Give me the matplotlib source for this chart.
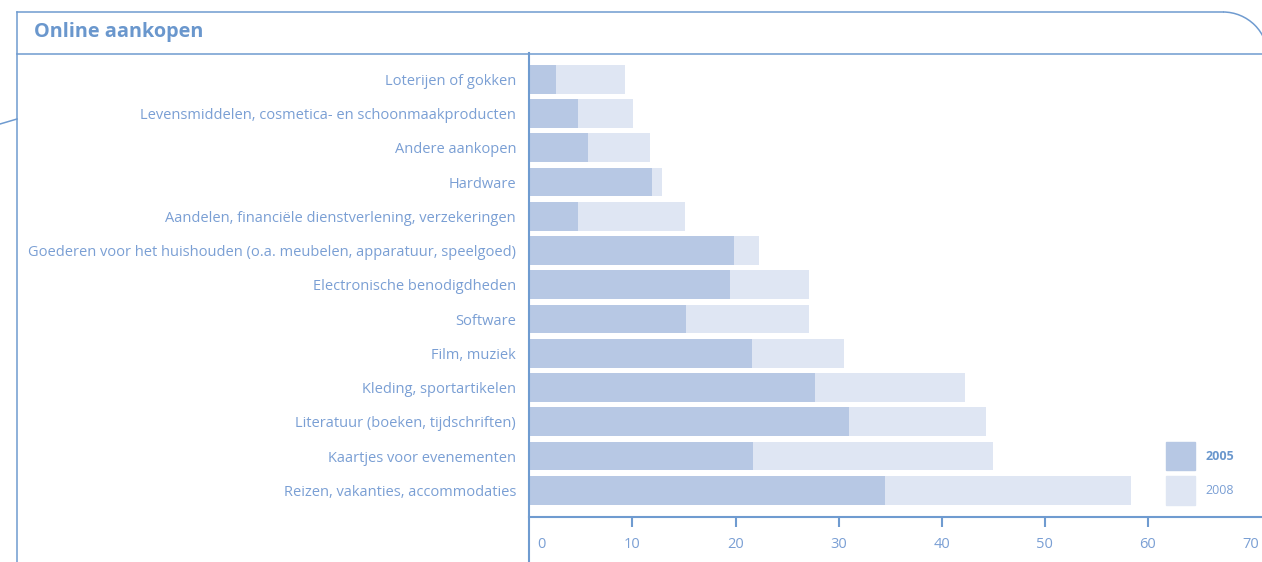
import matplotlib.pyplot as plt
from matplotlib.patches import Rectangle, Arc
from matplotlib.lines import Line2D
from matplotlib.transforms import ScaledTranslation

# data (percent)
categories = [
    'Loterijen of gokken',
    'Levensmiddelen, cosmetica- en schoonmaakproducten',
    'Andere aankopen',
    'Hardware',
    'Aandelen, financiële dienstverlening, verzekeringen',
    'Goederen voor het huishouden (o.a. meubelen, apparatuur, speelgoed)',
    'Electronische benodigdheden',
    'Software',
    'Film, muziek',
    'Kleding, sportartikelen',
    'Literatuur (boeken, tijdschriften)',
    'Kaartjes voor evenementen',
    'Reizen, vakanties, accommodaties',
]
values_2005 = [2.6, 4.7, 5.7, 11.9, 4.7, 19.9, 19.5, 15.2, 21.6, 27.7, 31.0, 21.7, 34.5]
values_2008 = [9.3, 10.1, 11.7, 12.9, 15.1, 22.3, 27.1, 27.1, 30.5, 42.3, 44.3, 45.0, 58.4]
x_ticks = [0, 10, 20, 30, 40, 50, 60, 70]
series_names = ['2005', '2008']

DARK = '#b7c8e4'
LIGHT = '#dfe6f3'
LINE = '#6f9bd0'
TEXT = '#7a9fd4'
TITLE = '#6a97cd'
FONT = 'Open Sans'

W, H = 1262, 562
fig = plt.figure(figsize=(W / 100, H / 100), dpi=100)

def fx(px):
    return px / W

def fy(py):
    return 1 - py / H

# frame around the panel
frame_kw = dict(color=LINE, lw=1.1, transform=fig.transFigure)
fig.add_artist(Line2D([fx(17), fx(17)], [fy(12), 0], **frame_kw))
fig.add_artist(Line2D([fx(17), fx(1223)], [fy(12), fy(12)], **frame_kw))
fig.add_artist(Line2D([fx(17), 1], [fy(53.5), fy(53.5)], **frame_kw))
fig.add_artist(Line2D([0, fx(17)], [fy(124), fy(119)], **frame_kw))
r = 45
fig.add_artist(Arc((fx(1223), fy(12 + r)), 2 * r / W, 2 * r / H, theta1=0, theta2=90,
                   color=LINE, lw=1.1, transform=fig.transFigure))

fig.text(fx(34), fy(32), 'Online aankopen', fontsize=14.3, fontweight='bold',
         color=TITLE, family=FONT, va='center', ha='left')

ax_left, ax_top, ax_bottom = 529.3, 53.3, 517
ax = fig.add_axes([fx(ax_left), fy(ax_bottom), 1 - fx(ax_left), (ax_bottom - ax_top) / H])

y = list(range(len(categories)))
ax.barh(y, values_2008, height=0.84, color=LIGHT, label=series_names[1])
ax.barh(y, values_2005, height=0.84, color=DARK, label=series_names[0])

ax.set_xlim(0, (W - ax_left) / 10.31)
ax.set_ylim(12.78, -0.76)

ax.set_yticks(y)
ax.set_yticklabels(categories)
ax.tick_params(axis='y', length=0, pad=9.5, labelsize=10.55, labelcolor=TEXT)
ax.set_xticks(x_ticks)
ax.tick_params(axis='x', length=7.5, width=1.5, color=LINE, pad=7,
               labelsize=10.5, labelcolor=TEXT)
for lab in ax.get_xticklabels() + ax.get_yticklabels():
    lab.set_family(FONT)
ax.xaxis.get_major_ticks()[0].tick1line.set_visible(False)
ax.xaxis.get_major_ticks()[-1].tick1line.set_visible(False)
zero_lab = ax.get_xticklabels()[0]
zero_lab.set_transform(zero_lab.get_transform() + ScaledTranslation(0.12, 0, fig.dpi_scale_trans))

for side in ['top', 'right', 'left']:
    ax.spines[side].set_visible(False)
ax.spines['bottom'].set_color(LINE)
ax.spines['bottom'].set_linewidth(1.5)
# vertical axis line runs from the header down to the bottom edge
fig.add_artist(Line2D([fx(ax_left), fx(ax_left)], [0, fy(ax_top)], color=LINE, lw=1.5,
                      transform=fig.transFigure))

# legend boxes next to the last two rows
for row, name, col, weight in [(11, series_names[0], DARK, 'bold'), (12, series_names[1], LIGHT, 'normal')]:
    ax.add_patch(Rectangle((61.76, row - 0.42), 2.78, 0.84, color=col))
    ax.text(65.54, row, name, fontsize=9, fontweight=weight, family=FONT,
            color=TITLE if weight == 'bold' else TEXT, va='center', ha='left')

fig.savefig('out.png', dpi=100)
